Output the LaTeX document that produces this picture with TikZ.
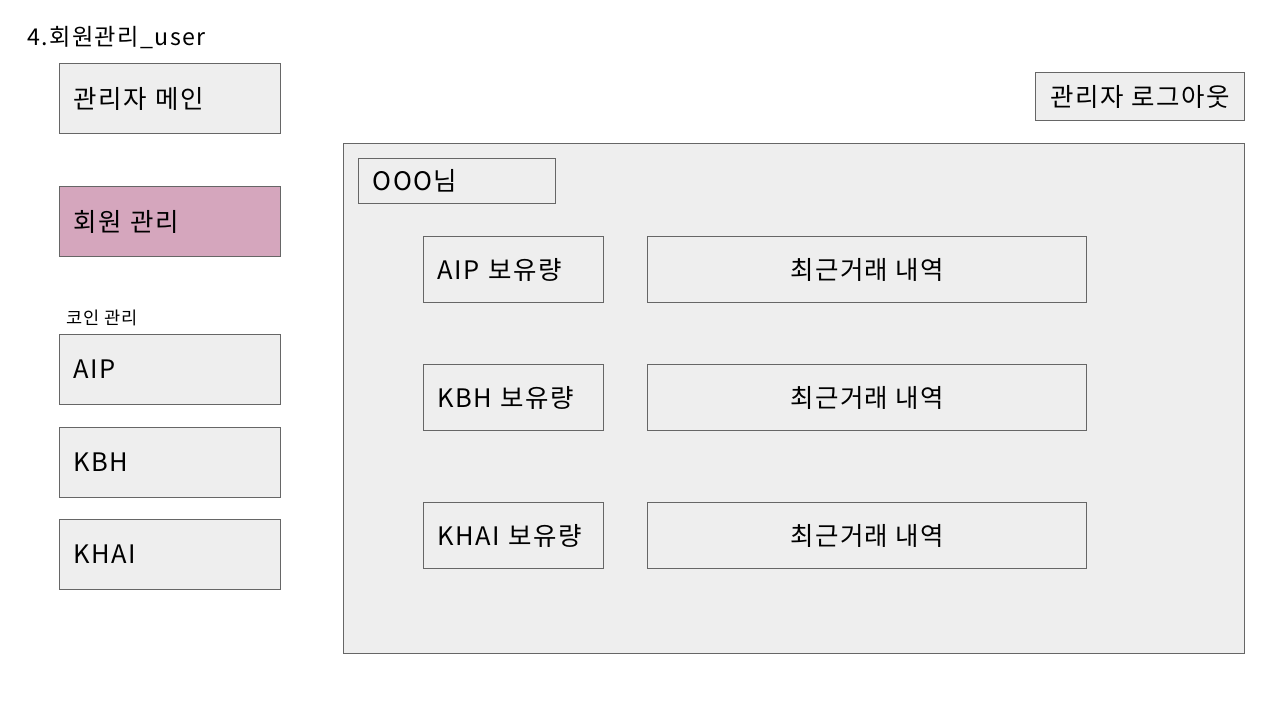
\documentclass[tikz,border=0pt]{standalone}
\usepackage{fontspec}
\setmainfont{Noto Sans CJK KR}[LetterSpace=6]
\usepackage{xcolor}
\usepackage{tikz}
\usetikzlibrary{positioning}
\definecolor{mygray}{HTML}{EEEEEE}
\definecolor{mypink}{HTML}{D5A6BD}
\definecolor{myline}{HTML}{666666}
\tikzstyle{box} = [rectangle, draw=myline, line width=0.7pt, fill=mygray, anchor=north west, font=\fontsize{14.5}{17}\selectfont]
\tikzstyle{menu} = [box, minimum width=4.42cm, minimum height=1.4cm, text width=3.86cm, inner xsep=0.28cm, align=left]

\begin{document}
\begin{tikzpicture}[
    x=0.02cm, y=-0.02cm,
    hold/.style={box, minimum height=1.32cm, text width=3.04cm, inner xsep=0.28cm, align=left},
    hist/.style={box, minimum width=8.78cm, minimum height=1.32cm, align=center}]
    \useasboundingbox (0,0) rectangle (1271,714);
    \node[anchor=west, font=\fontsize{13.2}{16}\selectfont, inner sep=0] (title) at (27,38) {4.회원관리\_user};
    \node[menu] (main) at (59,63) {관리자 메인};
    \node[menu, fill=mypink] (member) at (59,186) {회원 관리};
    \node[anchor=west, font=\fontsize{10}{12}\selectfont, inner sep=0] (coin) at (66,318) {코인 관리};
    \node[menu] (aip) at (59,334) {AIP};
    \node[menu] (kbh) at (59,427) {KBH};
    \node[menu] (khai) at (59,519) {KHAI};
    \node[box, minimum width=4.18cm, minimum height=0.96cm] (logout) at (1035,72) {관리자 로그아웃};
    \node[box, minimum width=18.02cm, minimum height=10.2cm] (panel) at (343,143) {};
    \node[box, minimum height=0.9cm, text width=3.38cm, inner xsep=0.28cm, align=left] (name) at (358,158) {OOO님};
    \node[hold] (aiphold) at (423,236) {AIP 보유량};
    \node[hist] (aiphist) at (647,236) {최근거래 내역};
    \node[hold] (kbhhold) at (423,364) {KBH 보유량};
    \node[hist] (kbhhist) at (647,364) {최근거래 내역};
    \node[hold] (khaihold) at (423,502) {KHAI 보유량};
    \node[hist] (khaihist) at (647,502) {최근거래 내역};
\end{tikzpicture}
\end{document}
